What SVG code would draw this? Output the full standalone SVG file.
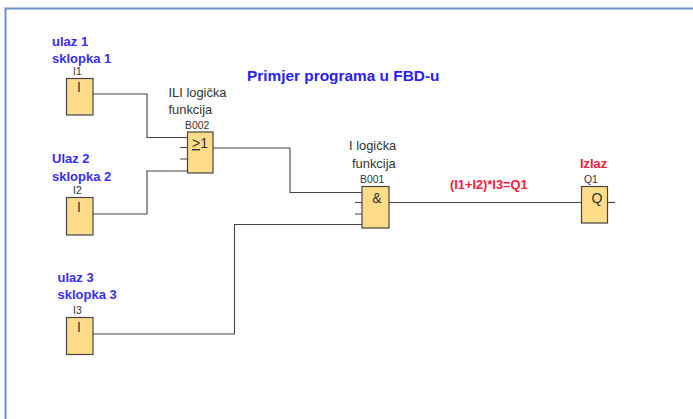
<svg xmlns="http://www.w3.org/2000/svg" width="693" height="419" viewBox="0 0 693 419">
<style>
text{font-family:"Liberation Sans",Arial,sans-serif}
.box{fill:#ffdc8a;stroke:#444;stroke-width:1.2}
.w{fill:none;stroke:#444;stroke-width:1.1}
.b{fill:#3a2cf0;font-size:13px;font-weight:bold}
.r{fill:#f0203c;font-size:12.800px;font-weight:bold}
.n{fill:#333;font-size:10.400px}
.t{fill:#333;font-size:12.900px}
.g{fill:#333;font-size:14px;text-anchor:middle}
</style>
<path d="M693 8.500H5.500V419" fill="none" stroke="#6a92cc" stroke-width="2"/>
<g id="connectors">
<path class="w" d="M93 94H147V137.500H187"/>
<path class="w" d="M93 214H147V171H187"/>
<path class="w" d="M213 148H290V192.500H362"/>
<path class="w" d="M93 334H234.500V224.500H362"/>
<path class="w" d="M389 202.500H581"/>
<path class="w" d="M607 202.500H615"/>
<path class="w" d="M180 147.500H187M180 159H187"/>
<path class="w" d="M355 202.500H362M355 214H362"/>
</g>
<text x="247" y="81" fill="#2a20f0" style="font-size:15.400px;font-weight:bold">Primjer programa u FBD-u</text>
<g id="I1"><text class="b" x="52" y="46">ulaz 1</text><text class="b" x="52" y="63">sklopka 1</text><text class="n" x="73" y="74.500">I1</text><rect class="box" x="66.500" y="78.500" width="26.500" height="36.500"/><text class="g" x="79" y="92">I</text></g>
<g id="I2"><text class="b" x="52" y="163">Ulaz 2</text><text class="b" x="52" y="181">sklopka 2</text><text class="n" x="73" y="193.500">I2</text><rect class="box" x="66.500" y="197.500" width="26.500" height="37.500"/><text class="g" x="79" y="212">I</text></g>
<g id="I3"><text class="b" x="57.500" y="282">ulaz 3</text><text class="b" x="57.500" y="299">sklopka 3</text><text class="n" x="73" y="314">I3</text><rect class="box" x="66.500" y="317.500" width="26.500" height="37"/><text class="g" x="79" y="332">I</text></g>
<g id="B002"><text class="t" x="168.500" y="97">ILI logička</text><text class="t" x="168.500" y="114">funkcija</text><text class="n" x="185" y="128.500">B002</text><rect class="box" x="187.500" y="132" width="25.500" height="41"/><text x="200" y="148" style="font-size:14px;fill:#333;text-anchor:middle"><tspan text-decoration="underline">&gt;</tspan>1</text></g>
<g id="B001"><text class="t" x="349" y="150">I logička</text><text class="t" x="352" y="168">funkcija</text><text class="n" x="360" y="183">B001</text><rect class="box" x="362" y="186.500" width="27" height="41.500"/><text class="g" x="377" y="203">&amp;</text></g>
<g id="Q1"><text class="r" x="580" y="168">Izlaz</text><text class="n" x="584" y="183">Q1</text><rect class="box" x="581.500" y="186.500" width="26" height="36.500"/><text class="g" x="597" y="203">Q</text></g>
<text class="r" x="450" y="189">(I1+I2)*I3=Q1</text>
</svg>
